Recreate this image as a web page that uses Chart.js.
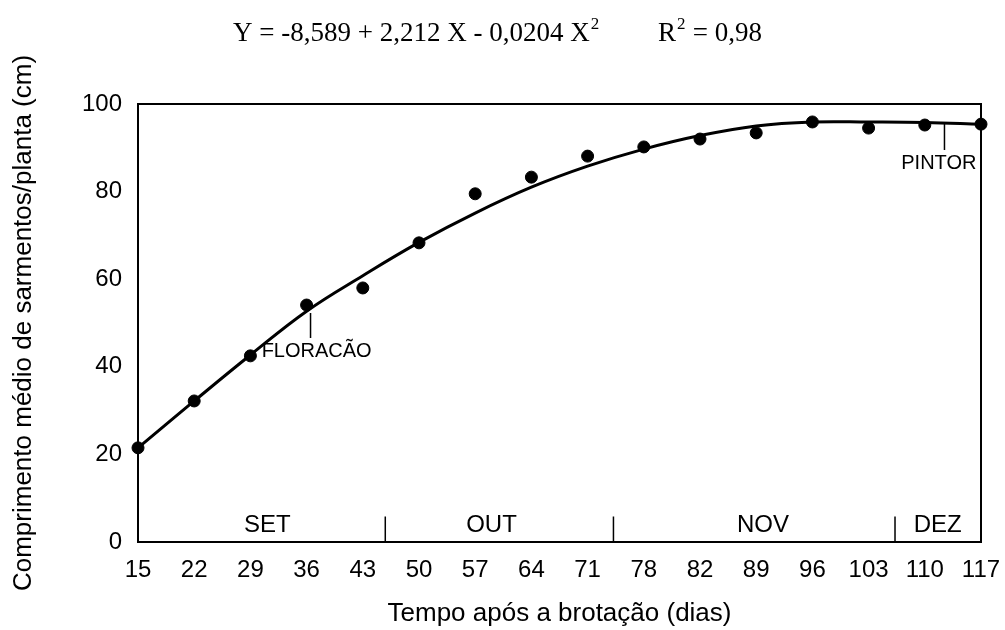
<!DOCTYPE html>
<html>
<head>
    <title>Comprimento médio de sarmentos</title>
    <script src="https://cdn.jsdelivr.net/npm/chart.js"></script>
    <style>
        body { margin: 0; background: #fff; }
        #wrap { width: 1005px; height: 630px; }
    </style>
</head>
<body>
    <div id="wrap"><canvas id="myChart" width="1005" height="630"></canvas></div>
    <script>
        // days after budbreak (evenly spaced categories in the original)
        var dias = ['15', '22', '29', '36', '43', '50', '57', '64', '71', '78', '82', '89', '96', '103', '110', '117'];
        // observed means (cm)
        var observado = [21.5, 32.2, 42.5, 54.1, 58.0, 68.3, 79.5, 83.3, 88.1, 90.2, 92.0, 93.4, 95.9, 94.5, 95.2, 95.4];
        // fitted curve
        var ajustado = [21.5, 32.2, 42.7, 52.7, 60.8, 68.4, 75.1, 81.0, 85.8, 89.7, 92.8, 95.0, 95.9, 95.9, 95.8, 95.4];
        var yTicks = [0, 20, 40, 60, 80, 100];

        // month strip along the bottom: label centres and dividers (category index units)
        var meses = ['SET', 'OUT', 'NOV', 'DEZ'];
        var mesCentro = [2.3, 6.29, 11.12, 14.23];
        var mesDivisa = [4.4, 8.46, 13.47];

        var equacao = 'Y = -8,589 + 2,212 X - 0,0204 X';
        var r2 = ' = 0,98';

        var sans = '"Liberation Sans", Arial, sans-serif';
        var serif = '"Liberation Serif", "Times New Roman", serif';

        // frame, month strip, stage labels and equation
        var extras = {
            id: 'extras',
            afterDatasetsDraw: function(chart) {
                var ctx = chart.ctx, a = chart.chartArea;
                var xs = chart.scales.x, ys = chart.scales.y;
                ctx.save();
                ctx.strokeStyle = '#000';
                ctx.lineWidth = 2;
                ctx.strokeRect(a.left, a.top, a.right - a.left, a.bottom - a.top);

                ctx.lineWidth = 1.5;
                ctx.beginPath();
                mesDivisa.forEach(function(v) {
                    var px = xs.getPixelForValue(v);
                    ctx.moveTo(px, a.bottom);
                    ctx.lineTo(px, ys.getPixelForValue(5.8));
                });
                // FLORACAO marker under 36 d
                var fx = xs.getPixelForValue(3.07);
                ctx.moveTo(fx, ys.getPixelForValue(52.3));
                ctx.lineTo(fx, ys.getPixelForValue(46.6));
                // PINTOR marker
                var px2 = xs.getPixelForValue(14.35);
                ctx.moveTo(px2, ys.getPixelForValue(95.8));
                ctx.lineTo(px2, ys.getPixelForValue(89.5));
                ctx.stroke();

                ctx.fillStyle = '#000';
                ctx.textAlign = 'center';
                ctx.textBaseline = 'middle';
                ctx.font = '24px ' + sans;
                meses.forEach(function(m, i) {
                    ctx.fillText(m, xs.getPixelForValue(mesCentro[i]), ys.getPixelForValue(3.9));
                });

                ctx.font = '20px ' + sans;
                ctx.textAlign = 'left';
                ctx.fillText('FLORACÃO', xs.getPixelForValue(2.2), ys.getPixelForValue(43.4));
                ctx.textAlign = 'center';
                ctx.fillText('PINTOR', xs.getPixelForValue(14.25), ys.getPixelForValue(86.5));

                // equation with real superscripts
                ctx.textAlign = 'left';
                ctx.textBaseline = 'alphabetic';
                ctx.font = '27px ' + serif;
                var x0 = 233, base = 41;
                ctx.fillText(equacao, x0, base);
                var w = ctx.measureText(equacao).width;
                ctx.font = '17px ' + serif;
                ctx.fillText('2', x0 + w + 1, base - 12);
                ctx.font = '27px ' + serif;
                var xr = 658;
                ctx.fillText('R', xr, base);
                var wr = ctx.measureText('R').width;
                ctx.font = '17px ' + serif;
                ctx.fillText('2', xr + wr + 1, base - 12);
                ctx.font = '27px ' + serif;
                ctx.fillText(r2, xr + wr + 10, base);
                ctx.restore();
            }
        };

        var chart = new Chart(document.getElementById('myChart').getContext('2d'), {
            type: 'line',
            data: {
                labels: dias,
                datasets: [{
                    label: 'Observado',
                    data: observado,
                    showLine: false,
                    pointRadius: 6,
                    pointBackgroundColor: '#000',
                    pointBorderColor: '#000',
                    order: 1
                }, {
                    label: 'Ajustado',
                    data: ajustado,
                    borderColor: '#000',
                    borderWidth: 3,
                    pointRadius: 0,
                    tension: 0.4,
                    fill: false,
                    order: 2
                }]
            },
            options: {
                responsive: false,
                animation: false,
                layout: { padding: { top: 104, right: 24, left: 0, bottom: 0 } },
                plugins: {
                    legend: { display: false },
                    tooltip: { enabled: false }
                },
                scales: {
                    x: {
                        offset: false,
                        grid: { display: false, drawTicks: false },
                        border: { display: false },
                        ticks: { color: '#000', font: { family: sans, size: 24 }, padding: 14, autoSkip: false, maxRotation: 0 },
                        title: { display: true, text: 'Tempo após a brotação (dias)', color: '#000', font: { family: sans, size: 26 }, padding: { top: 4, bottom: 1 } },
                        afterFit: function(s) { s.height = 88; s.paddingLeft = 0; s.paddingRight = 0; }
                    },
                    y: {
                        min: 0, max: 100,
                        grid: { display: false, drawTicks: false },
                        border: { display: false },
                        afterBuildTicks: function(s) { s.ticks = yTicks.map(function(v) { return { value: v }; }); },
                        ticks: { color: '#000', font: { family: sans, size: 24 }, padding: 16 },
                        title: { display: true, text: 'Comprimento médio de sarmentos/planta (cm)', color: '#000', font: { family: sans, size: 26 }, padding: { top: 8, bottom: 4 } },
                        afterFit: function(s) { s.width = 138; }
                    }
                }
            },
            plugins: [extras]
        });
    </script>
</body>
</html>
